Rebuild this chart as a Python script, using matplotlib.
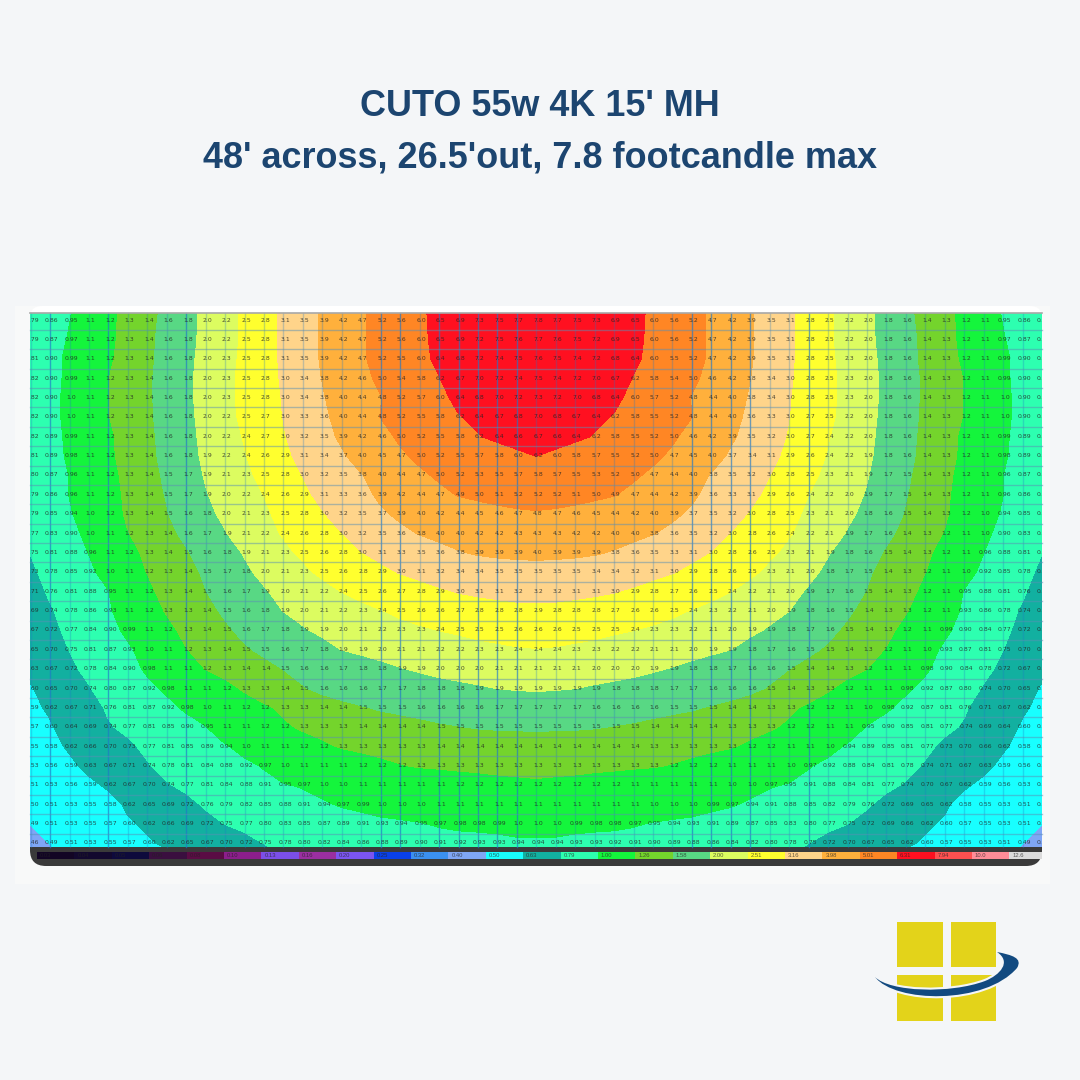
import numpy as np
import matplotlib
matplotlib.use("Agg")
import matplotlib.pyplot as plt
from matplotlib.patches import FancyBboxPatch, PathPatch, Rectangle
from matplotlib.path import Path

title_lines = ["CUTO 55w 4K 15' MH", "48' across, 26.5'out, 7.8 footcandle max"]

# footcandles, row by row from the top, centre column first then out to the edge
half_rows = [
    [7.80, 7.65, 7.50, 7.30, 6.90, 6.50, 6.05, 5.60, 5.15, 4.70, 4.25, 3.85, 3.45, 3.07, 2.78, 2.45, 2.25, 1.98, 1.76, 1.56, 1.42, 1.31, 1.19, 1.06, .95, .86, .79],
    [7.70, 7.60, 7.45, 7.25, 6.90, 6.45, 6.05, 5.60, 5.15, 4.70, 4.25, 3.85, 3.45, 3.07, 2.78, 2.45, 2.25, 1.98, 1.78, 1.58, 1.43, 1.31, 1.20, 1.08, .97, .87, .79],
    [7.60, 7.55, 7.40, 7.20, 6.85, 6.40, 6.00, 5.55, 5.15, 4.70, 4.25, 3.85, 3.45, 3.07, 2.78, 2.47, 2.26, 2.00, 1.80, 1.58, 1.44, 1.33, 1.21, 1.09, .99, .90, .81],
    [7.50, 7.40, 7.25, 7.00, 6.70, 6.20, 5.80, 5.40, 5.00, 4.60, 4.15, 3.80, 3.42, 3.05, 2.77, 2.50, 2.27, 2.02, 1.81, 1.60, 1.45, 1.34, 1.24, 1.10, .99, .90, .82],
    [7.30, 7.20, 7.05, 6.80, 6.40, 6.05, 5.65, 5.25, 4.80, 4.40, 4.00, 3.75, 3.35, 3.02, 2.75, 2.50, 2.27, 2.02, 1.81, 1.60, 1.45, 1.34, 1.24, 1.11, 1.00, .90, .82],
    [7.00, 6.85, 6.65, 6.40, 6.20, 5.80, 5.50, 5.20, 4.85, 4.40, 4.00, 3.65, 3.30, 3.00, 2.72, 2.48, 2.25, 2.00, 1.80, 1.60, 1.44, 1.33, 1.24, 1.11, 1.00, .90, .82],
    [6.70, 6.60, 6.40, 6.20, 5.85, 5.55, 5.25, 4.95, 4.60, 4.20, 3.90, 3.55, 3.22, 2.95, 2.67, 2.42, 2.20, 1.98, 1.78, 1.58, 1.43, 1.32, 1.21, 1.10, .99, .89, .82],
    [6.25, 6.05, 5.85, 5.65, 5.45, 5.25, 5.00, 4.72, 4.45, 4.05, 3.70, 3.40, 3.12, 2.88, 2.58, 2.37, 2.17, 1.95, 1.78, 1.56, 1.43, 1.31, 1.21, 1.09, .98, .89, .81],
    [5.75, 5.65, 5.50, 5.35, 5.15, 4.95, 4.70, 4.40, 4.05, 3.75, 3.45, 3.20, 3.00, 2.78, 2.50, 2.30, 2.10, 1.92, 1.70, 1.53, 1.42, 1.29, 1.19, 1.07, .96, .87, .80],
    [5.25, 5.20, 5.12, 5.00, 4.88, 4.65, 4.40, 4.15, 3.90, 3.60, 3.33, 3.13, 2.87, 2.62, 2.40, 2.20, 2.03, 1.87, 1.67, 1.51, 1.39, 1.28, 1.17, 1.06, .96, .86, .79],
    [4.75, 4.70, 4.60, 4.50, 4.40, 4.25, 4.05, 3.90, 3.70, 3.45, 3.20, 2.95, 2.75, 2.50, 2.33, 2.15, 1.97, 1.80, 1.62, 1.48, 1.38, 1.27, 1.16, 1.03, .94, .85, .79],
    [4.35, 4.32, 4.25, 4.15, 4.05, 3.95, 3.82, 3.65, 3.45, 3.20, 2.98, 2.78, 2.58, 2.43, 2.25, 2.07, 1.87, 1.70, 1.55, 1.43, 1.32, 1.24, 1.12, 1.00, .90, .83, .77],
    [3.95, 3.93, 3.90, 3.85, 3.75, 3.60, 3.45, 3.30, 3.12, 2.98, 2.80, 2.63, 2.47, 2.30, 2.10, 1.92, 1.75, 1.60, 1.47, 1.36, 1.28, 1.19, 1.08, .96, .88, .81, .75],
    [3.55, 3.53, 3.50, 3.42, 3.35, 3.25, 3.12, 3.02, 2.88, 2.75, 2.62, 2.48, 2.30, 2.13, 1.98, 1.83, 1.68, 1.53, 1.42, 1.32, 1.25, 1.14, 1.02, .92, .85, .78, .73],
    [3.20, 3.18, 3.13, 3.08, 3.02, 2.92, 2.82, 2.72, 2.62, 2.52, 2.40, 2.24, 2.15, 2.00, 1.86, 1.72, 1.60, 1.49, 1.39, 1.30, 1.21, 1.09, .95, .88, .81, .76, .71],
    [2.85, 2.84, 2.80, 2.76, 2.71, 2.65, 2.58, 2.47, 2.38, 2.28, 2.19, 2.09, 1.98, 1.90, 1.75, 1.63, 1.53, 1.43, 1.34, 1.26, 1.16, 1.05, .93, .86, .78, .74, .69],
    [2.62, 2.60, 2.55, 2.50, 2.45, 2.40, 2.33, 2.28, 2.20, 2.14, 2.05, 1.95, 1.87, 1.78, 1.66, 1.55, 1.46, 1.37, 1.29, 1.20, 1.11, .99, .90, .84, .77, .72, .67],
    [2.38, 2.36, 2.32, 2.29, 2.23, 2.18, 2.12, 2.06, 2.00, 1.95, 1.90, 1.80, 1.72, 1.62, 1.54, 1.47, 1.38, 1.31, 1.24, 1.15, 1.02, .93, .87, .81, .75, .70, .65],
    [2.13, 2.12, 2.09, 2.05, 2.01, 1.98, 1.93, 1.88, 1.82, 1.76, 1.70, 1.64, 1.57, 1.50, 1.43, 1.37, 1.31, 1.25, 1.15, 1.05, .98, .90, .84, .78, .72, .67, .63],
    [1.93, 1.92, 1.90, 1.86, 1.83, 1.79, 1.75, 1.71, 1.67, 1.63, 1.59, 1.55, 1.48, 1.41, 1.34, 1.27, 1.19, 1.12, 1.06, .98, .92, .87, .80, .74, .70, .65, .60],
    [1.72, 1.70, 1.68, 1.65, 1.62, 1.59, 1.57, 1.54, 1.52, 1.48, 1.44, 1.38, 1.33, 1.28, 1.22, 1.16, 1.10, 1.04, .98, .92, .87, .81, .76, .71, .67, .62, .59],
    [1.53, 1.52, 1.52, 1.51, 1.49, 1.47, 1.44, 1.42, 1.39, 1.36, 1.33, 1.30, 1.27, 1.22, 1.17, 1.11, 1.05, .95, .90, .85, .81, .77, .74, .69, .64, .60, .57],
    [1.40, 1.39, 1.38, 1.37, 1.36, 1.35, 1.33, 1.32, 1.30, 1.28, 1.26, 1.22, 1.17, 1.12, 1.07, 1.01, .94, .89, .85, .81, .77, .73, .70, .66, .62, .58, .55],
    [1.32, 1.31, 1.30, 1.29, 1.28, 1.27, 1.26, 1.24, 1.21, 1.18, 1.14, 1.10, 1.06, 1.02, .97, .92, .88, .84, .81, .78, .74, .71, .67, .63, .59, .56, .53],
    [1.21, 1.20, 1.19, 1.17, 1.16, 1.14, 1.13, 1.11, 1.08, 1.06, 1.03, 1.00, .97, .95, .91, .88, .84, .81, .77, .74, .70, .67, .62, .59, .56, .53, .51],
    [1.09, 1.09, 1.08, 1.07, 1.06, 1.05, 1.04, 1.02, 1.01, .99, .97, .94, .91, .88, .85, .82, .79, .76, .72, .69, .65, .62, .58, .55, .53, .51, .50],
    [1.00, 1.00, .99, .98, .98, .97, .95, .94, .93, .91, .89, .87, .85, .83, .80, .77, .75, .72, .69, .66, .62, .60, .57, .55, .53, .51, .49],
    [.94, .94, .93, .93, .92, .91, .90, .89, .88, .86, .84, .82, .80, .78, .75, .72, .70, .67, .65, .62, .60, .57, .55, .53, .51, .49, .46],
]

band_levels = [0, .49, .61, .75, .96, 1.25, 1.5, 1.9, 2.4, 3.0, 3.8, 4.85, 6.25, 10]

scale_labels = ["0.03", "0.04", "0.05", "0.06", "0.08", "0.10", "0.13", "0.16", "0.20",
                "0.25", "0.32", "0.40", "0.50", "0.63", "0.79", "1.00", "1.26", "1.58",
                "2.00", "2.51", "3.16", "3.98", "5.01", "6.31", "7.94", "10.0", "12.6"]
scale_colors = ["#120524", "#12082e", "#0e0a3c", "#3a0f3f", "#5a0c44", "#8b1e8b", "#7b4fe8",
                "#9a2fa0", "#7b55f0", "#0a40e8", "#3b90f0", "#7fa6f5", "#18ffff", "#12b0a0",
                "#2dffb0", "#14f53c", "#74d42c", "#58d884", "#dcfc60", "#ffff2e", "#ffd48a",
                "#ffb03c", "#ff8624", "#ff1020", "#ff5050", "#ff8c98", "#dcdcdc"]

strong_cols = [1, 4, 8, 18, 19, 21, 22, 23, 24, 25, 34, 35, 36, 37, 40]

bg = "#f4f6f8"
fig = plt.figure(figsize=(10.8, 10.8), dpi=100, facecolor=bg)
ax = fig.add_axes([0, 0, 1, 1])
ax.set_xlim(0, 1080)
ax.set_ylim(1080, 0)
ax.axis("off")

plt.rcParams["font.family"] = ["Liberation Sans", "DejaVu Sans"]

for txt, y in zip(title_lines, [106, 158]):
    ax.text(540, y, txt, ha="center", va="center", fontsize=25.9, fontweight="bold", color="#1c4570")

# pale card behind the screenshot
ax.add_patch(Rectangle((15, 306), 1035, 578, color="#f8f9f9", lw=0, zorder=1))
ax.add_patch(FancyBboxPatch((30, 340), 1012, 526, boxstyle="round,pad=0,rounding_size=16",
                            fc="#3a3a3a", ec="none", zorder=2))
ax.add_patch(FancyBboxPatch((30, 306), 1012, 60, boxstyle="round,pad=0,rounding_size=12",
                            fc="white", ec="none", zorder=2))

half = np.array(half_rows)
full = np.hstack([half[:, :0:-1], half])
col_x = 536 + 19.45 * (np.arange(full.shape[1]) - 26)
row_y = 320 + 19.37 * np.arange(full.shape[0])

# one extra row each side so the bands reach the edge of the map
pad = np.pad(full, ((1, 1), (0, 0)), mode="reflect", reflect_type="odd")
pad_y = np.concatenate([[row_y[0] - 19.37], row_y, [row_y[-1] + 19.37]])

map_box = Rectangle((30, 313), 1012, 534, transform=ax.transData)
cs = ax.contourf(col_x, pad_y, pad, levels=band_levels, colors=scale_colors[11:24], zorder=3)
cs.set_clip_path(map_box)
cs.set_edgecolor("face")

# grid
for n in range(52):
    x = 30.6 + 19.45 * n
    strong = n in strong_cols
    ax.axvline(x, ymin=1 - 847 / 1080, ymax=1 - 313 / 1080, color="#1f78c8",
               lw=1.0, alpha=0.65 if strong else 0.28, zorder=4)
for n in range(27):
    ax.plot([30, 1042], [330 + 19.37 * n] * 2, color="#5a8fb5", lw=1.0, alpha=0.5, zorder=4)
ax.plot([30, 1042], [313, 313], color="#a8a8a8", lw=1.2, zorder=5)

# printed readings in every cell
for i, y in enumerate(row_y):
    for j, x in enumerate(col_x):
        v = full[i, j]
        lab = f"{v:.1f}" if v >= 1 else f"{v:.2f}"
        t = ax.text(x + 2, y, lab, ha="center", va="center", fontsize=4.4, color="#222222",
                    alpha=0.8, zorder=5, family="DejaVu Sans")
        t.set_clip_path(map_box)
        t.set_clip_on(True)

# colour scale strip
seg_x = 37 + 37.4 * np.arange(len(scale_colors))
seg_w = np.full(len(scale_colors), 37.4)
seg_w[-1] = 1042 - seg_x[-1]
ax.bar(seg_x, 7.6, width=seg_w, bottom=851.6, align="edge", color=scale_colors, zorder=5)
for x, lab in zip(seg_x, scale_labels):
    ax.text(x + 3, 855.5, lab, ha="left", va="center", fontsize=4.2, color="#222222", alpha=0.7, zorder=6)

# logo
yellow = "#e3d31a"
for x0, y0, w, h in [(897, 922, 46, 45), (951, 922, 45, 45), (897, 975, 46, 46), (951, 975, 45, 46)]:
    ax.add_patch(Rectangle((x0, y0), w, h, color=yellow, lw=0, zorder=2))
swoosh = Path(
    [(875, 977), (895, 1003), (985, 1005), (1017, 968), (1023, 958), (1012, 955), (997, 952),
     (1012, 962), (1000, 975), (985, 981), (950, 994), (890, 992), (875, 977)],
    [Path.MOVETO, Path.CURVE4, Path.CURVE4, Path.CURVE4, Path.CURVE4, Path.CURVE4, Path.CURVE4,
     Path.CURVE4, Path.CURVE4, Path.CURVE4, Path.CURVE4, Path.CURVE4, Path.CURVE4],
)
ax.add_patch(PathPatch(swoosh, fc="#124a80", ec=bg, lw=3, zorder=3))
ax.add_patch(PathPatch(swoosh, fc="#124a80", ec="none", zorder=4))

fig.savefig("out.png", dpi=100, facecolor=bg)
